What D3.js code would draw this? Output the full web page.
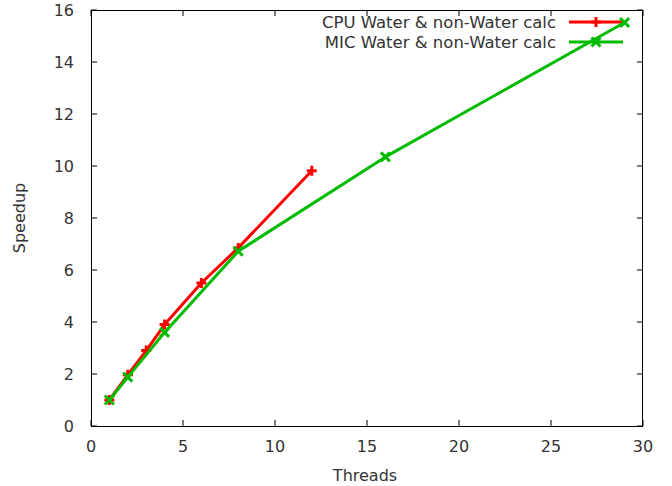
<!DOCTYPE html>
<html><head><meta charset="utf-8">
<script src="https://cdn.jsdelivr.net/npm/d3@7"></script>
<style>body{margin:0;background:#fff}text{font-family:"DejaVu Sans",sans-serif;fill:#333}</style>
</head><body><svg id="c" width="672" height="486"></svg>
<script>
const cpuThreads = [1, 2, 3, 4, 6, 8, 12];
const cpuSpeedup = [1, 1.97, 2.9, 3.9, 5.5, 6.85, 9.82];
const micThreads = [1, 2, 4, 8, 16, 29];
const micSpeedup = [1, 1.88, 3.6, 6.72, 10.35, 15.52];
const xTicks = [0, 5, 10, 15, 20, 25, 30];
const yTicks = [0, 2, 4, 6, 8, 10, 12, 14, 16];
const seriesNames = ["CPU Water & non-Water calc", "MIC Water & non-Water calc"];
const seriesColors = ["#ff0000", "#00bb00"];

const svg = d3.select("#c");
const L = 91, R = 643, T = 10, B = 426;
const x = d3.scaleLinear().domain([0, 30]).range([L, R]);
const y = d3.scaleLinear().domain([0, 16]).range([B, T]);

const tk = 6;
const g = svg.append("g");
xTicks.forEach(v => {
  g.append("line").attr("x1", x(v)).attr("x2", x(v)).attr("y1", B).attr("y2", B - tk).attr("stroke", "#000");
  g.append("line").attr("x1", x(v)).attr("x2", x(v)).attr("y1", T).attr("y2", T + tk).attr("stroke", "#000");
  g.append("text").attr("x", x(v)).attr("y", B + 26).attr("text-anchor", "middle").attr("font-size", 16).text(v);
});
yTicks.forEach(v => {
  g.append("line").attr("x1", L).attr("x2", L + tk).attr("y1", y(v)).attr("y2", y(v)).attr("stroke", "#000");
  g.append("line").attr("x1", R).attr("x2", R - tk).attr("y1", y(v)).attr("y2", y(v)).attr("stroke", "#000");
  g.append("text").attr("x", 74).attr("y", y(v) + 6).attr("text-anchor", "end").attr("font-size", 16).text(v);
});
svg.append("rect").attr("x", L + 0.5).attr("y", T + 0.5).attr("width", R - L - 1).attr("height", B - T)
  .attr("fill", "none").attr("stroke", "#000").attr("stroke-width", 1);

svg.append("text").attr("x", 365).attr("y", 481).attr("text-anchor", "middle").attr("font-size", 16).text("Threads");
svg.append("text").attr("transform", "translate(25," + ((T + B) / 2) + ") rotate(-90)").attr("text-anchor", "middle").attr("font-size", 16).text("Speedup");

const line = d3.line().x(d => x(d[0])).y(d => y(d[1]));
function plus(sel, cx, cy, col) {
  sel.append("path").attr("d", `M${cx-5},${cy}H${cx+5}M${cx},${cy-5}V${cy+5}`).attr("stroke", col).attr("stroke-width", 3);
}
function cross(sel, cx, cy, col) {
  sel.append("path").attr("d", `M${cx-4.5},${cy-4.5}L${cx+4.5},${cy+4.5}M${cx-4.5},${cy+4.5}L${cx+4.5},${cy-4.5}`).attr("stroke", col).attr("stroke-width", 3);
}
const series = [
  {xs: cpuThreads, ys: cpuSpeedup, mk: plus},
  {xs: micThreads, ys: micSpeedup, mk: cross}
];
series.forEach((s, i) => {
  const pts = s.xs.map((v, j) => [v, s.ys[j]]);
  const col = seriesColors[i];
  const gg = svg.append("g");
  const ly = 22 + i * 20;
  gg.append("text").attr("x", 556).attr("y", ly + 6).attr("text-anchor", "end").attr("font-size", 16.5).text(seriesNames[i]);
  gg.append("line").attr("x1", 569).attr("x2", 623).attr("y1", ly).attr("y2", ly).attr("stroke", col).attr("stroke-width", 3);
  s.mk(gg, 596, ly, col);
  gg.append("path").attr("d", line(pts)).attr("fill", "none").attr("stroke", col).attr("stroke-width", 3).attr("stroke-linejoin", "round");
  pts.forEach(p => s.mk(gg, x(p[0]), y(p[1]), col));
});
</script></body></html>
